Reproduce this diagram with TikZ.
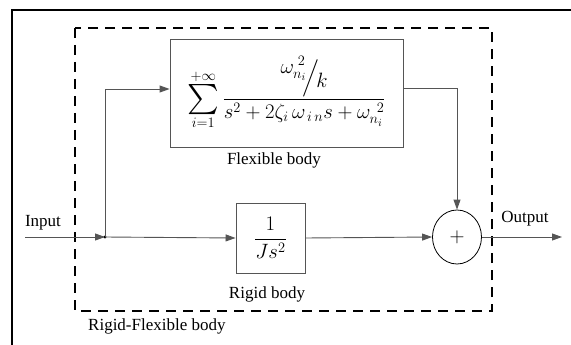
\documentclass[tikz,border=0pt]{standalone}
\usepackage{amsmath}
\usepackage[no-math]{fontspec}
\setmainfont{Liberation Serif}
\usetikzlibrary{arrows.meta,positioning,shapes.geometric}
\definecolor{linegray}{RGB}{85,85,85}
\newcommand{\bigsumop}{\mathop{\vcenter{\hbox{\scalebox{1.45}{$\sum$}}}}}
\tikzset{
  blockbox/.style={draw=linegray,line width=0.9pt,align=center,inner sep=0pt},
  sumnode/.style={draw=black,ellipse,line width=0.8pt,minimum width=49pt,minimum height=54pt,inner sep=0pt,
    font=\fontsize{20}{22}\selectfont},
  sigflow/.style={-{Triangle[length=10pt,width=7pt]},line width=0.9pt,draw=linegray},
  groupbox/.style={draw=black,line width=2.4pt,dash pattern=on 10pt off 7pt},
  framebox/.style={draw=black,line width=1.6pt},
  labeltext/.style={font=\fontsize{17}{19}\selectfont,inner sep=0pt},
  mathsize/.style={font=\fontsize{21}{25}\selectfont}
}

\begin{document}
\begin{tikzpicture}[x=1pt,y=-1pt]
  \useasboundingbox (0,0) rectangle (571,345);
  % frame and group
  \draw[framebox] (12,345) -- (12,10) -- (571,10);
  \draw[groupbox] (75,28) rectangle (492,311);
  % blocks
  \node[blockbox,minimum width=233pt,minimum height=108pt,mathsize] (flex) at (286.5,93)
    {$\bigsumop\limits_{i=1}^{+\infty}\dfrac{\raisebox{1ex}{$\omega_{n_i}^{\;2}$}\!\Big/\!\raisebox{-0.5ex}{$k$}}{s^{2}+2\zeta_{i}\,\omega_{\,i\,n}s+\omega_{n_i}^{\;\,2}}$};
  \node[blockbox,minimum width=69pt,minimum height=70pt,mathsize] (rigid) at (270.5,238)
    {$\dfrac{1}{Js^{2}}$};
  \node[sumnode] (sum) at (457,237) {$+$};
  \coordinate (in) at (25,237);
  \coordinate (branch) at (105,237);
  \coordinate (out) at (562,237);
  % labels
  \node[labeltext] (flexlbl) at (274,160) {Flexible body};
  \node[labeltext] (rigidlbl) at (267,294) {Rigid body};
  \node[labeltext,anchor=west] (grouplbl) at (88,326) {Rigid-Flexible body};
  \node[labeltext] (inlbl) at (43,223) {Input};
  \node[labeltext] (outlbl) at (525,219) {Output};
  % signals
  \draw[sigflow] (in) -- (branch);
  \fill[black] (branch) circle (1.6pt);
  \draw[sigflow] (branch) |- ([yshift=4pt]flex.west);
  \draw[sigflow] (branch) -- (rigid.west);
  \draw[sigflow] ([yshift=5pt]flex.east) -| (sum.north);
  \draw[sigflow] (rigid.east) -- (sum.west);
  \draw[sigflow] (sum.east) -- (out);
\end{tikzpicture}
\end{document}
